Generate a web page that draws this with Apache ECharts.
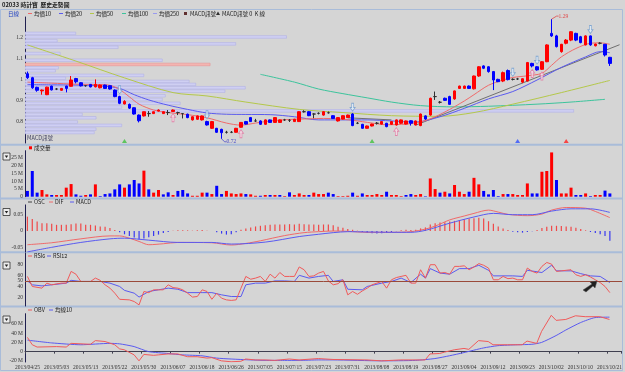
<!DOCTYPE html>
<html><head><meta charset="utf-8">
<script src="https://cdn.jsdelivr.net/npm/echarts@6/dist/echarts.min.js"></script>
<style>html,body{margin:0;padding:0;background:#d5d5d5}#c{width:625px;height:372px}</style>
</head><body><div id="c"></div><script>
// ---------- data ----------
const dates = [
'2013/04/25','2013/04/26','2013/04/29','2013/04/30','2013/05/01','2013/05/02','2013/05/03','2013/05/06','2013/05/07','2013/05/08',
'2013/05/09','2013/05/10','2013/05/13','2013/05/14','2013/05/15','2013/05/16','2013/05/20','2013/05/21','2013/05/22','2013/05/23',
'2013/05/24','2013/05/27','2013/05/28','2013/05/29','2013/05/30','2013/05/31','2013/06/03','2013/06/04','2013/06/05','2013/06/06',
'2013/06/07','2013/06/10','2013/06/11','2013/06/13','2013/06/14','2013/06/17','2013/06/18','2013/06/19','2013/06/20','2013/06/21',
'2013/06/24','2013/06/25','2013/06/26','2013/06/27','2013/06/28','2013/07/02','2013/07/03','2013/07/04','2013/07/05','2013/07/08',
'2013/07/09','2013/07/10','2013/07/11','2013/07/12','2013/07/15','2013/07/16','2013/07/17','2013/07/18','2013/07/19','2013/07/22',
'2013/07/23','2013/07/24','2013/07/25','2013/07/26','2013/07/29','2013/07/30','2013/07/31','2013/08/01','2013/08/02','2013/08/05',
'2013/08/06','2013/08/07','2013/08/08','2013/08/09','2013/08/12','2013/08/13','2013/08/15','2013/08/16','2013/08/19','2013/08/20',
'2013/08/21','2013/08/22','2013/08/23','2013/08/26','2013/08/27','2013/08/28','2013/08/29','2013/08/30','2013/09/02','2013/09/03',
'2013/09/04','2013/09/05','2013/09/06','2013/09/09','2013/09/10','2013/09/11','2013/09/12','2013/09/13','2013/09/16','2013/09/17',
'2013/09/18','2013/09/19','2013/09/23','2013/09/24','2013/09/25','2013/09/26','2013/09/27','2013/09/30','2013/10/02','2013/10/03',
'2013/10/04','2013/10/07','2013/10/08','2013/10/09','2013/10/10','2013/10/11','2013/10/15','2013/10/16','2013/10/17','2013/10/18',
'2013/10/21'];
// [open, close, low, high]
const ohlc = [
[1.03,1.011,1.005,1.04],[1.011,0.963,0.958,1.015],[0.965,0.951,0.944,0.968],[0.948,0.952,0.93,0.955],[0.93,0.966,0.928,0.968],
[0.971,0.953,0.95,0.973],[0.957,0.957,0.952,0.962],[0.951,0.96,0.948,0.962],[0.971,0.96,0.941,0.973],[0.97,1.0,0.968,1.019],
[1.007,0.992,0.984,1.01],[0.987,0.972,0.969,0.99],[0.973,0.973,0.968,0.976],[0.979,0.967,0.965,0.981],[0.967,0.979,0.965,1.003],
[0.963,0.976,0.96,0.978],[0.976,0.96,0.958,0.978],[0.973,0.957,0.954,0.975],[0.952,0.921,0.918,0.955],[0.921,0.889,0.885,0.925],
[0.886,0.898,0.884,0.904],[0.884,0.866,0.862,0.888],[0.868,0.838,0.835,0.87],[0.833,0.806,0.798,0.836],[0.829,0.849,0.826,0.85],
[0.84,0.84,0.825,0.852],[0.84,0.849,0.838,0.85],[0.852,0.857,0.85,0.86],[0.84,0.849,0.838,0.851],[0.845,0.845,0.833,0.857],
[0.85,0.857,0.849,0.86],[0.845,0.845,0.833,0.849],[0.84,0.84,0.817,0.842],[0.837,0.821,0.818,0.84],[0.81,0.825,0.807,0.827],
[0.813,0.829,0.81,0.831],[0.81,0.829,0.807,0.831],[0.802,0.786,0.783,0.806],[0.77,0.802,0.767,0.805],[0.77,0.751,0.748,0.772],
[0.765,0.749,0.72,0.768],[0.751,0.751,0.745,0.758],[0.751,0.751,0.747,0.757],[0.751,0.77,0.749,0.772],[0.775,0.798,0.773,0.80],
[0.802,0.79,0.788,0.805],[0.821,0.802,0.80,0.824],[0.805,0.805,0.80,0.815],[0.805,0.789,0.786,0.808],[0.789,0.81,0.786,0.812],
[0.81,0.798,0.796,0.812],[0.798,0.821,0.796,0.823],[0.798,0.81,0.796,0.812],[0.81,0.81,0.805,0.815],[0.808,0.808,0.80,0.814],
[0.802,0.813,0.80,0.815],[0.802,0.849,0.80,0.851],[0.849,0.849,0.845,0.856],[0.849,0.83,0.828,0.852],[0.838,0.838,0.818,0.842],
[0.841,0.841,0.836,0.846],[0.833,0.849,0.83,0.852],[0.844,0.844,0.84,0.85],[0.83,0.817,0.815,0.833],[0.805,0.821,0.802,0.823],
[0.814,0.83,0.812,0.832],[0.821,0.833,0.819,0.835],[0.838,0.783,0.78,0.842],[0.794,0.794,0.79,0.80],[0.789,0.77,0.768,0.791],
[0.77,0.781,0.768,0.783],[0.781,0.79,0.779,0.792],[0.794,0.794,0.788,0.80],[0.79,0.802,0.788,0.804],[0.794,0.778,0.775,0.796],
[0.789,0.802,0.786,0.804],[0.786,0.81,0.783,0.812],[0.794,0.81,0.791,0.812],[0.79,0.805,0.788,0.807],[0.806,0.794,0.783,0.808],
[0.786,0.805,0.784,0.807],[0.783,0.838,0.78,0.84],[0.829,0.814,0.81,0.832],[0.833,0.913,0.83,0.916],[0.921,0.921,0.905,0.945],
[0.894,0.894,0.888,0.90],[0.913,0.903,0.90,0.916],[0.921,0.884,0.882,0.925],[0.91,0.948,0.906,0.95],[0.96,0.971,0.957,0.973],
[0.96,0.971,0.958,0.973],[0.971,0.96,0.957,0.974],[0.958,1.019,0.955,1.021],[1.019,1.063,1.015,1.066],[1.067,1.056,1.052,1.07],
[1.063,1.04,1.035,1.066],[1.04,1.0,0.952,1.043],[1.003,0.992,0.99,1.006],[0.995,1.035,0.99,1.04],[1.045,1.002,0.998,1.05],
[1.003,1.003,0.998,1.008],[1.005,1.005,1.0,1.01],[0.99,1.006,0.985,1.008],[0.995,1.083,0.993,1.086],[1.079,1.067,1.06,1.082],
[1.063,1.048,1.045,1.066],[1.051,1.087,1.048,1.09],[1.087,1.167,1.085,1.17],[1.222,1.21,1.205,1.29],[1.21,1.159,1.155,1.215],
[1.135,1.17,1.13,1.172],[1.175,1.19,1.17,1.195],[1.19,1.23,1.185,1.233],[1.222,1.19,1.185,1.225],[1.206,1.178,1.175,1.21],
[1.167,1.21,1.165,1.213],[1.21,1.167,1.163,1.212],[1.163,1.171,1.16,1.173],[1.175,1.175,1.17,1.18],[1.17,1.119,1.112,1.172],
[1.108,1.079,1.067,1.11]];
// volume, millions of shares
const volumeM = [
3.7,16.5,2.6,4.3,1.5,1.1,1.1,1.1,5.8,8.1,
1.5,0.6,1.1,1.5,7.9,0.4,1.7,2.1,4.7,7.9,
5.8,7.9,10.7,8.5,16.7,4.7,2.6,4.3,1.5,2.8,
1.1,3.7,4.3,2.1,0.6,0.6,2.6,2.6,1.7,7.0,
1.7,3.7,2.1,1.7,2.1,1.7,1.5,0.6,0.6,1.1,
1.1,1.1,1.1,0.4,2.8,1.1,2.1,1.1,1.1,2.6,
1.7,1.7,2.6,1.7,0.4,0.4,0.6,2.6,0.6,2.1,
1.1,1.1,1.7,1.1,3.2,1.1,1.1,0.4,1.1,1.7,
1.1,1.7,0.3,11.7,4.9,2.6,3.2,2.1,7.5,3.2,
1.7,3.2,12.1,7.9,3.7,1.5,4.3,0.4,1.7,1.7,
1.7,1.1,1.1,8.5,2.1,2.1,16.0,16.5,28.4,10.7,
2.1,2.1,5.8,1.1,1.1,2.1,0.4,1.1,1.1,3.9,
2.1];
// moving averages of price, read at points [dayIndex, value]
const ma10 = [[0,0.99],[5,0.985],[10,0.98],[15,0.978],[17,0.975],[19,0.955],[21,0.92],[23,0.885],[26,0.857],[29,0.845],[33,0.835],[37,0.82],[41,0.795],[44,0.785],[47,0.795],[50,0.805],[54,0.812],[58,0.815],[61,0.817],[64,0.815],[67,0.808],[71,0.795],[74,0.787],[78,0.79],[81,0.80],[84,0.825],[87,0.86],[90,0.9],[92,0.93],[95,0.975],[98,1.0],[100,1.012],[103,1.02],[106,1.032],[108,1.07],[110,1.11],[113,1.15],[116,1.175],[118,1.177],[120,1.17]];
const ma20 = [[0,0.978],[5,0.977],[10,0.976],[15,0.972],[19,0.96],[22,0.93],[25,0.905],[29,0.88],[33,0.86],[37,0.843],[41,0.837],[45,0.836],[50,0.835],[55,0.825],[60,0.81],[65,0.81],[70,0.81],[75,0.805],[80,0.80],[85,0.825],[90,0.865],[95,0.91],[100,0.945],[105,1.0],[110,1.06],[115,1.11],[118,1.135],[120,1.13]];
const ma50 = [[0,1.167],[10,1.09],[20,1.01],[30,0.94],[37,0.924],[45,0.895],[56,0.86],[65,0.845],[75,0.83],[85,0.827],[92,0.845],[100,0.885],[110,0.94],[120,0.998]];
const ma100 = [[48,1.027],[55,0.99],[60,0.957],[65,0.935],[70,0.915],[75,0.895],[81,0.878],[88,0.872],[95,0.875],[105,0.885],[112,0.895],[119,0.908]];
const trendA = [[80,0.785],[122,1.168]];
const trendB = [[66,0.82],[75,0.81]];
// volume-by-price profile: price level and bar length (% of plot width)
const vpPrices = [1.222,1.205,1.187,1.172,1.156,1.126,1.094,1.074,1.058,1.044,1.022,1.008,0.993,0.979,0.963,0.947,0.925,0.907,0.889,0.871,0.853,0.836,0.820,0.800,0.784,0.766,0.750];
const vpLengths = [8.5,43.8,5.4,35.3,15.6,5.9,23,31,5.6,5.1,19.9,6.8,27.5,28.6,36.9,33.5,23.5,23,26,16.2,91.9,9.6,11.9,8.8,16.2,11.9,11.6];
const vpMarked = 7;
// K-line signals
const buySignals = [30,44,76,104,106];
const sellSignals = [19,37,67,100,105,116];
// MACD signals row
const macdSigIdx = [20,71,101,111];
const macdSigKind = [0,0,1,2];
// MACD
const osc = [
0.044,0.037,0.029,0.024,0.024,0.022,0.019,0.019,0.019,0.021,
0.023,0.023,0.019,0.019,0.017,0.014,0.013,0.009,0.003,-0.004,
-0.010,-0.015,-0.020,-0.026,-0.023,-0.019,-0.015,-0.011,-0.006,-0.003,
0.001,0.002,0.002,0.002,0.001,0.002,0.003,0.001,0.000,-0.004,
-0.008,-0.011,-0.010,-0.004,0.004,0.008,0.011,0.014,0.016,0.018,
0.019,0.020,0.020,0.020,0.021,0.020,0.022,0.021,0.020,0.020,
0.019,0.020,0.020,0.018,0.013,0.010,0.006,0.004,0.001,-0.003,
-0.006,-0.007,-0.008,-0.007,-0.006,-0.004,-0.001,0.002,0.004,0.003,
0.004,0.008,0.011,0.020,0.024,0.026,0.027,0.029,0.031,0.033,
0.036,0.038,0.039,0.041,0.038,0.030,0.022,0.014,0.008,0.003,
-0.002,-0.004,-0.005,-0.003,-0.001,0.003,0.009,0.013,0.016,0.016,
0.015,0.014,0.013,0.010,0.006,0.002,-0.003,-0.006,-0.010,-0.015,
-0.030];
const dif = [[0,-0.042],[5,-0.036],[11,-0.024],[17,-0.015],[19,-0.015],[21,-0.022],[23,-0.032],[25,-0.042],[28,-0.039],[31,-0.035],[38,-0.036],[42,-0.043],[45,-0.038],[48,-0.03],[53,-0.014],[57,-0.005],[60,-0.002],[63,0.0],[66,-0.001],[70,-0.004],[75,-0.004],[79,-0.002],[82,0.006],[84,0.015],[87,0.034],[90,0.046],[92,0.054],[95,0.064],[97,0.058],[99,0.051],[103,0.047],[106,0.052],[108,0.064],[111,0.072],[115,0.07],[117,0.06],[120,0.041]];
const macd = [[0,-0.064],[5,-0.05],[11,-0.035],[17,-0.024],[20,-0.022],[25,-0.028],[31,-0.035],[38,-0.035],[42,-0.04],[49,-0.034],[56,-0.017],[60,-0.01],[63,-0.005],[66,-0.002],[70,-0.003],[75,-0.004],[79,-0.004],[82,0.002],[87,0.024],[92,0.043],[96,0.054],[100,0.05],[104,0.05],[108,0.061],[112,0.068],[116,0.068],[120,0.057]];
// RSI
const rsi6 = [[0,58],[1,40],[3,37],[4,46],[5,43],[7,46],[8,46],[9,67],[10,62],[11,49],[13,49],[14,55],[15,51],[16,43],[17,37],[18,28],[19,17],[21,16],[22,13],[23,7],[24,31],[25,29],[26,34],[27,34],[28,34],[29,43],[30,38],[31,37],[32,34],[33,28],[34,21],[35,22],[36,34],[37,31],[38,17],[39,28],[40,19],[41,16],[42,15],[43,16],[44,37],[45,58],[46,53],[47,55],[48,58],[49,49],[50,62],[51,55],[52,65],[53,58],[54,58],[55,58],[56,75],[57,70],[58,58],[59,59],[60,64],[61,67],[62,50],[63,43],[64,45],[65,52],[66,25],[67,31],[68,26],[69,32],[70,37],[71,43],[72,46],[73,49],[74,37],[75,52],[76,56],[77,58],[78,60],[79,46],[80,46],[81,70],[82,55],[83,79],[84,79],[85,64],[86,65],[87,62],[88,76],[89,76],[90,77],[91,70],[92,75],[93,81],[94,78],[95,73],[96,52],[97,52],[98,58],[99,54],[100,55],[101,52],[102,52],[103,73],[104,67],[105,64],[106,76],[107,83],[108,80],[109,67],[110,68],[111,69],[112,70],[113,61],[114,58],[115,61],[116,57],[117,52],[118,47],[119,40],[120,29]];
const rsi12 = [[0,50],[1,43],[3,41],[5,43],[8,46],[9,51],[11,49],[15,49],[17,46],[19,40],[20,33],[22,28],[23,21],[25,31],[27,34],[29,37],[31,35],[33,29],[36,29],[38,29],[40,25],[42,22],[44,22],[45,43],[47,46],[49,46],[51,50],[53,50],[55,49],[56,60],[58,55],[60,58],[62,60],[63,49],[65,52],[66,35],[69,34],[70,40],[73,46],[75,49],[77,55],[79,47],[81,62],[82,55],[83,72],[85,64],[87,62],[89,72],[91,72],[93,78],[95,69],[96,59],[100,59],[102,58],[103,69],[106,65],[108,78],[109,68],[112,68],[114,63],[116,59],[118,58],[120,47]];
// OBV (millions)
const obv = [[0,31],[1,15],[2,10],[6,11],[8,10],[9,18],[13,16],[14,24],[16,22],[18,15],[19,6],[20,4],[22,-7],[23,-20],[24,-6],[26,-8],[27,-7],[29,-5],[31,-5],[33,-11],[35,-11],[37,-14],[38,-13],[40,-20],[42,-22],[44,-21],[45,-16],[47,-18],[49,-18],[51,-19],[54,-16],[56,-18],[60,-15],[63,-17],[70,-18],[73,-20],[77,-18],[82,-18],[83,-5],[85,-4],[86,-1],[88,4],[90,7],[91,5],[93,24],[95,22],[96,15],[99,15],[102,15],[103,23],[105,18],[106,44],[108,79],[109,68],[111,70],[113,78],[115,76],[118,76],[120,70]];
const obvMa10 = [[0,25],[5,19],[11,15],[17,18],[19,17],[22,11],[25,0],[29,-4],[32,-7],[36,-9],[39,-14],[42,-16],[46,-18],[49,-19],[53,-19],[56,-19],[60,-18],[63,-18],[73,-20],[80,-19],[84,-15],[87,-9],[90,-2],[94,8],[97,13],[101,15],[104,16],[106,20],[109,35],[111,47],[114,63],[117,74],[120,75]];

// ---------- layout ----------
const FONT = '"Liberation Serif","Noto Sans CJK TC",serif';
const CJK = '"Noto Sans CJK TC","Liberation Serif",sans-serif';
const L = 25, W = 597;
const cats = dates.concat(['','']);
const priceMin = 0.70, priceMax = 1.30;
const RED = '#ff0000', BLUE = '#0000ff';

const volColors = ohlc.map((d,i)=>{
  const prev = i>0 ? ohlc[i-1][1] : d[0];
  return d[1] >= prev ? RED : BLUE;
});

function xAxisFor(grid, showLabels){
  return {
    type:'category', gridIndex:grid, data:cats, boundaryGap:true,
    axisLine:{show:showLabels, lineStyle:{color:'#404050', width:1}},
    axisTick:{show:showLabels, interval:(i)=>i%6===0 && i<=120, length:2, lineStyle:{color:'#404050'}},
    axisLabel:{show:showLabels, interval:(i)=>i%6===0 && i<=120, fontSize:5.5, fontFamily:FONT, color:'#333', margin:3},
    splitLine:{show:false}
  };
}
function yAxisFor(grid, min, max, vals, fmt){
  return {
    type:'value', gridIndex:grid, min:min, max:max, scale:false,
    axisLine:{show:true, lineStyle:{color:'#202050', width:1}},
    axisTick:{show:false},
    splitLine:{show:false},
    axisLabel:{customValues:vals, formatter:fmt, fontSize:5.5, fontFamily:FONT, color:'#333', margin:2}
  };
}

const hiIdx = ohlc.reduce((b,d,i)=>d[3]>ohlc[b][3]?i:b,0);
const loIdx = ohlc.reduce((b,d,i)=>d[2]<ohlc[b][2]?i:b,0);

const upArrow = 'path://M5,0 L10,5 L7,5 L7,11 L3,11 L3,5 L0,5 Z';
const downArrow = 'path://M3,0 L7,0 L7,6 L10,6 L5,11 L0,6 L3,6 Z';
const sigColors = ['#40c040','#3050ff','#ff2020'];

const option = {
  animation:false,
  backgroundColor:'#d5d5d5',
  grid:[
    {left:L, width:W, top:17, height:126},
    {left:L, width:W, top:150.7, height:46},
    {left:L, width:W, top:204.9, height:47},
    {left:L, width:W, top:253, height:53},
    {left:L, width:W, top:313.7, height:48.3}
  ],
  xAxis:[xAxisFor(0,false), xAxisFor(1,false), xAxisFor(2,false), xAxisFor(3,false), xAxisFor(4,true),
    {type:'value', gridIndex:0, min:0, max:100, show:false}],
  yAxis:[
    yAxisFor(0, priceMin, priceMax, [0.8,0.9,1.0,1.1,1.2], v=>String(+v.toFixed(2))),
    yAxisFor(1, 0, 29.5, [0,5,10,15,20,25], v=>v===0?'0':v+' M'),
    yAxisFor(2, -0.064, 0.08, [-0.05,0,0.05], v=>v===0?'0':String(+v.toFixed(2))),
    yAxisFor(3, 5, 100, [20,40,50,60,80], v=>String(v)),
    yAxisFor(4, -22.5, 82.5, [-20,0,20,40,60], v=>v===0?'0':v+' M')
  ],
  series:[
    // volume-by-price profile
    {type:'custom', xAxisIndex:5, yAxisIndex:0, z:1, silent:true, clip:true,
     data: vpPrices.map((p,k)=>[vpLengths[k], p, k===vpMarked?1:0]),
     renderItem:(params, api)=>{
       const len=api.value(0), p=api.value(1), mk=api.value(2);
       const a=api.coord([0, p+0.0062]), b=api.coord([len, p-0.0062]);
       return {type:'rect', shape:{x:a[0], y:a[1], width:b[0]-a[0], height:b[1]-a[1]},
         style:{fill: mk?'#f4b4b0':'#cfcff2', stroke: mk?'#e89494':'#b2b2e6', lineWidth:0.6}};
     }},
    {type:'line', xAxisIndex:0, yAxisIndex:0, data:ma100, symbol:'none', smooth:0.3, lineStyle:{color:'#3cc49c', width:1}, z:2},
    {type:'line', xAxisIndex:0, yAxisIndex:0, data:ma50, symbol:'none', smooth:0.3, lineStyle:{color:'#b4c84a', width:1}, z:2},
    {type:'line', xAxisIndex:0, yAxisIndex:0, data:trendA, symbol:'none', lineStyle:{color:'#707070', width:1}, z:2},
    {type:'line', xAxisIndex:0, yAxisIndex:0, data:trendB, symbol:'none', lineStyle:{color:'#707070', width:1}, z:2},
    {type:'line', xAxisIndex:0, yAxisIndex:0, data:ma20, symbol:'none', smooth:0.3, lineStyle:{color:'#5a5af0', width:1}, z:3},
    {type:'line', xAxisIndex:0, yAxisIndex:0, data:ma10, symbol:'none', smooth:0.3, lineStyle:{color:'#f06a6a', width:1}, z:3},
    {type:'candlestick', xAxisIndex:0, yAxisIndex:0, data:ohlc, barWidth:3, z:5,
     itemStyle:{color:RED, color0:BLUE, borderColor:RED, borderColor0:BLUE, borderColorDoji:'#303030', borderWidth:1}},
    {type:'scatter', xAxisIndex:0, yAxisIndex:0, z:6, symbol:upArrow, symbolSize:[5,8], symbolOffset:[0,6],
     data: buySignals.map(i=>[i, ohlc[i][2]]), itemStyle:{color:'#f8dce8', borderColor:'#e0709c', borderWidth:0.8}},
    {type:'scatter', xAxisIndex:0, yAxisIndex:0, z:6, symbol:downArrow, symbolSize:[5,8], symbolOffset:[0,-6],
     data: sellSignals.map(i=>[i, ohlc[i][3]]), itemStyle:{color:'#e0eefa', borderColor:'#6c98cc', borderWidth:0.8}},
    {type:'scatter', xAxisIndex:0, yAxisIndex:0, z:6, symbol:'triangle', symbolSize:[5,4],
     data: macdSigIdx.map((i,k)=>({value:[i, priceMin+0.009], itemStyle:{color:sigColors[macdSigKind[k]]}}))},
    {type:'custom', xAxisIndex:0, yAxisIndex:0, z:7, silent:true,
     data:[[hiIdx, ohlc[hiIdx][3], 1],[loIdx, ohlc[loIdx][2], -1]],
     renderItem:(params, api)=>{
       const pt=api.coord([api.value(0), api.value(1)]); const up=api.value(2)>0;
       const col = up ? '#e04848' : '#4848c8';
       const ex = up ? [pt[0]+5, pt[1]-3] : [pt[0]+3, pt[1]+3];
       return {type:'group', children:[
         {type:'polyline', shape:{points:[[pt[0],pt[1]], ex, [ex[0]+2, ex[1]]]}, style:{stroke:col, lineWidth:0.8, fill:null}},
         {type:'text', style:{text: api.value(1).toFixed(2), x:ex[0]+2, y:ex[1], fill:col, fontSize:5.5, fontFamily:FONT, verticalAlign:'middle'}}
       ]};
     }},
    // volume
    {type:'bar', xAxisIndex:1, yAxisIndex:1, barWidth:3,
     data: volumeM.map((v,i)=>({value:v, itemStyle:{color:volColors[i]}}))},
    // MACD
    {type:'bar', xAxisIndex:2, yAxisIndex:2, barWidth:1.2,
     data: osc.map(v=>({value:v, itemStyle:{color: v>=0 ? '#f04848' : '#3838f0'}}))},
    {type:'line', xAxisIndex:2, yAxisIndex:2, data:dif, symbol:'none', smooth:0.3, lineStyle:{color:'#f06a6a', width:1}},
    {type:'line', xAxisIndex:2, yAxisIndex:2, data:macd, symbol:'none', smooth:0.3, lineStyle:{color:'#5a5af0', width:1}},
    // RSI
    {type:'line', xAxisIndex:3, yAxisIndex:3, data:rsi12, symbol:'none', lineStyle:{color:'#5a5af0', width:1},
     markLine:{silent:true, symbol:'none', label:{show:false}, lineStyle:{color:'#9a4a3a', width:1, type:'solid'}, data:[{yAxis:50}]}},
    {type:'line', xAxisIndex:3, yAxisIndex:3, data:rsi6, symbol:'none', lineStyle:{color:'#f05a5a', width:1}},
    // OBV
    {type:'line', xAxisIndex:4, yAxisIndex:4, data:obvMa10, symbol:'none', smooth:0.2, lineStyle:{color:'#5a5af0', width:1}},
    {type:'line', xAxisIndex:4, yAxisIndex:4, data:obv, symbol:'none', lineStyle:{color:'#f05a5a', width:1}}
  ],
  graphic:[]
};

// decorative frame, separators, legends
const G = option.graphic;
const SEP = '#a9bcd9';
G.push({type:'rect', shape:{x:0.5,y:9.5,width:622,height:361}, style:{fill:null, stroke:SEP, lineWidth:1}, silent:true});
[144.8, 198.6, 252.2, 306.6].forEach(y=>G.push({type:'line', shape:{x1:0,y1:y,x2:623,y2:y}, style:{stroke:SEP, lineWidth:2}, silent:true}));
function txt(x,y,t,fill,size,weight){G.push({type:'text', style:{text:t, x:x, y:y, fill:fill||'#222', fontSize:size||5.5, fontFamily:CJK, fontWeight:weight||'normal', verticalAlign:'middle'}, silent:true, z:10});}
function dash(x,y,col){G.push({type:'line', shape:{x1:x,y1:y,x2:x+4,y2:y}, style:{stroke:col, lineWidth:1}, silent:true, z:10});}
function icon(y){
  G.push({type:'rect', shape:{x:3,y:y,width:7,height:7}, style:{fill:'#ececec', stroke:'#303030', lineWidth:0.8}, silent:true, z:10});
  G.push({type:'polygon', shape:{points:[[4.8,y+2.5],[8.2,y+2.5],[6.5,y+5]]}, style:{fill:'#202020'}, silent:true, z:10});
}
txt(2,4.5,'02033 時計寶  歷史走勢圖','#202020',5.8,'bold');
txt(8,13.5,'日線','#2040c0');
dash(28,13.5,'#f06a6a'); txt(34,13.5,'均價10');
dash(59,13.5,'#5a5af0'); txt(65,13.5,'均價20');
dash(90,13.5,'#b4c84a'); txt(96,13.5,'均價50');
dash(122,13.5,'#3cc49c'); txt(128,13.5,'均價100');
dash(153,13.5,'#9a9af0'); txt(159,13.5,'均價250');
G.push({type:'rect', shape:{x:184,y:12,width:3,height:3}, style:{fill:'#603030'}, silent:true, z:10});
txt(190,13.5,'MACD訊號');
G.push({type:'polygon', shape:{points:[[216,15],[220,15],[218,11.5]]}, style:{fill:'#303030'}, silent:true, z:10});
txt(222,13.5,'MACD訊號 0  K 線');
txt(27,137.5,'MACD訊號','#404060');
G.push({type:'rect', shape:{x:29,y:146.3,width:3,height:3}, style:{fill:RED}, silent:true, z:10});
txt(34,148,'成交量');
dash(28,202,'#404040'); txt(34,202,'OSC');
dash(49,202,'#f06a6a'); txt(55,202,'DIF');
dash(70,202,'#5a5af0'); txt(76,202,'MACD');
dash(28,256,'#f05a5a'); txt(34,256,'RSI6');
dash(47,256,'#5a5af0'); txt(53,256,'RSI12');
dash(28,310,'#f05a5a'); txt(34,310,'OBV');
dash(49,310,'#5a5af0'); txt(55,310,'均線10');
icon(153); icon(208.5); icon(262); icon(316);
// mouse pointer captured in the screenshot
G.push({type:'polygon', shape:{points:[[583,290],[586,292],[593,286],[595,288],[597,281],[590,282],[592,284]]}, style:{fill:'#202020', stroke:'#505050', lineWidth:0.5}, silent:true, z:20});

const chart = echarts.init(document.getElementById('c'), null, {renderer:'canvas'});
chart.setOption(option);
</script></body></html>
